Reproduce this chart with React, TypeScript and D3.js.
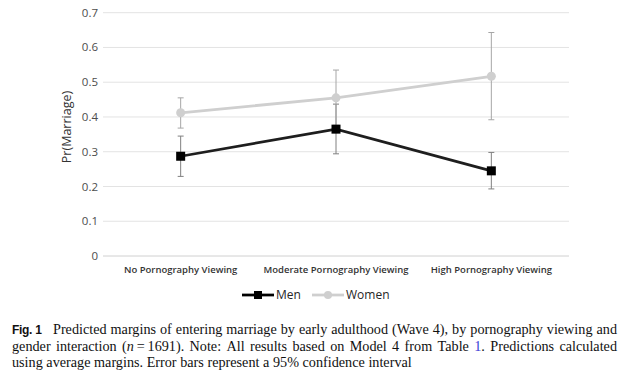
import React, { useEffect, useRef } from "react";
import * as d3 from "d3";

const categories = ["No Pornography Viewing", "Moderate Pornography Viewing", "High Pornography Viewing"];
const menValues = [0.287, 0.365, 0.245];
const menLower = [0.229, 0.294, 0.193];
const menUpper = [0.345, 0.437, 0.298];
const womenValues = [0.412, 0.455, 0.517];
const womenLower = [0.368, 0.376, 0.392];
const womenUpper = [0.455, 0.535, 0.643];
const yTicks = [0, 0.1, 0.2, 0.3, 0.4, 0.5, 0.6, 0.7];
const seriesNames = ["Men", "Women"];

const captionLines = [
  "Predicted margins of entering marriage by early adulthood (Wave 4), by pornography viewing and",
  "gender interaction (n=1691). Note: All results based on Model 4 from Table 1. Predictions calculated",
  "using average margins. Error bars represent a 95% confidence interval",
];

const App = () => {
  const ref = useRef<SVGSVGElement>(null);

  useEffect(() => {
    const svg = d3.select(ref.current);
    svg.selectAll("*").remove();

    const x = d3.scaleBand().domain(categories).range([103, 569]);
    const y = d3.scaleLinear().domain([0, 0.7]).range([256, 12.7]);
    const cx = (d: string) => (x(d) as number) + x.bandwidth() / 2;
    const sans = "'Open Sans', sans-serif";

    // gridlines
    svg
      .selectAll(".grid")
      .data(yTicks)
      .enter()
      .append("line")
      .attr("x1", 103)
      .attr("x2", 569)
      .attr("y1", (d) => y(d))
      .attr("y2", (d) => y(d))
      .attr("stroke", (d) => (d === 0 ? "#d0d0d0" : "#e3e3e3"))
      .attr("stroke-width", 1);

    svg
      .selectAll(".ytick")
      .data(yTicks)
      .enter()
      .append("text")
      .attr("x", 98)
      .attr("y", (d) => y(d))
      .attr("dy", "0.35em")
      .attr("text-anchor", "end")
      .attr("font-family", sans)
      .attr("font-size", 11.5)
      .attr("fill", "#4d4d4d")
      .text((d) => (d === 0 ? "0" : d3.format(".1f")(d)));

    svg
      .append("text")
      .attr("transform", `translate(71,127) rotate(-90)`)
      .attr("text-anchor", "middle")
      .attr("font-family", sans)
      .attr("font-size", 12.5)
      .attr("fill", "#333")
      .text("Pr(Marriage)");

    svg
      .selectAll(".xtick")
      .data(categories)
      .enter()
      .append("text")
      .attr("x", (d) => cx(d))
      .attr("y", 270)
      .attr("dy", "0.35em")
      .attr("text-anchor", "middle")
      .attr("font-family", sans)
      .attr("font-weight", 600)
      .attr("font-size", 9.5)
      .attr("fill", "#333")
      .text((d) => d);

    const series = [
      { name: "Men", v: menValues, lo: menLower, hi: menUpper, color: "#1e1e1e", err: "#808080" },
      { name: "Women", v: womenValues, lo: womenLower, hi: womenUpper, color: "#cfcfcf", err: "#a6a6a6" },
    ];

    const line = d3
      .line<number>()
      .x((_, i) => cx(categories[i]))
      .y((d) => y(d));

    series.forEach((s) => {
      const g = svg.append("g");
      categories.forEach((c, i) => {
        g.append("line")
          .attr("x1", cx(c))
          .attr("x2", cx(c))
          .attr("y1", y(s.lo[i]))
          .attr("y2", y(s.hi[i]))
          .attr("stroke", s.err)
          .attr("stroke-width", 1);
        [s.lo[i], s.hi[i]].forEach((e) => {
          g.append("line")
            .attr("x1", cx(c) - 3)
            .attr("x2", cx(c) + 3)
            .attr("y1", y(e))
            .attr("y2", y(e))
            .attr("stroke", s.err)
            .attr("stroke-width", 1);
        });
      });
    });

    series
      .slice()
      .reverse()
      .forEach((s) => {
        svg
          .append("path")
          .datum(s.v)
          .attr("fill", "none")
          .attr("stroke", s.color)
          .attr("stroke-width", 2.75)
          .attr("d", line);
        if (s.name === "Men") {
          svg
            .selectAll(null)
            .data(s.v)
            .enter()
            .append("rect")
            .attr("x", (_, i) => cx(categories[i]) - 4.5)
            .attr("y", (d) => y(d) - 4.5)
            .attr("width", 9)
            .attr("height", 9)
            .attr("fill", "#000");
        } else {
          svg
            .selectAll(null)
            .data(s.v)
            .enter()
            .append("circle")
            .attr("cx", (_, i) => cx(categories[i]))
            .attr("cy", (d) => y(d))
            .attr("r", 4.5)
            .attr("fill", s.color);
        }
      });

    // legend
    const legend = [
      { name: seriesNames[0], x0: 242, color: "#000" },
      { name: seriesNames[1], x0: 312, color: "#cfcfcf" },
    ];
    legend.forEach((l, i) => {
      svg
        .append("line")
        .attr("x1", l.x0)
        .attr("x2", l.x0 + 32)
        .attr("y1", 295)
        .attr("y2", 295)
        .attr("stroke", l.color)
        .attr("stroke-width", 2.75);
      if (i === 0) {
        svg
          .append("rect")
          .attr("x", l.x0 + 16 - 4)
          .attr("y", 291)
          .attr("width", 8)
          .attr("height", 8)
          .attr("fill", l.color);
      } else {
        svg
          .append("circle")
          .attr("cx", l.x0 + 16)
          .attr("cy", 295)
          .attr("r", 4)
          .attr("fill", l.color);
      }
      svg
        .append("text")
        .attr("x", l.x0 + 34)
        .attr("y", 295)
        .attr("dy", "0.35em")
        .attr("font-family", sans)
        .attr("font-size", 12)
        .attr("fill", "#262626")
        .text(l.name);
    });

    // caption
    const serif = "'Liberation Serif', 'Times New Roman', serif";
    svg
      .append("text")
      .attr("x", 12)
      .attr("y", 334)
      .attr("font-family", "'Liberation Sans', Arial, sans-serif")
      .attr("font-weight", 700)
      .attr("font-size", 12)
      .attr("letter-spacing", -0.3)
      .attr("fill", "#111")
      .text("Fig. 1");

    const lineStarts = [53, 12, 12];
    const baselines = [334, 350.7, 367.2];
    captionLines.forEach((txt, li) => {
      const words = txt.split(" ");
      const nodes = words.map((w) => {
        const t = svg
          .append("text")
          .attr("y", baselines[li])
          .attr("font-family", serif)
          .attr("font-size", 14.2)
          .attr("fill", "#111");
        if (w === "(n=1691).") {
          t.append("tspan").text("(");
          t.append("tspan").attr("font-style", "italic").text("n");
          t.append("tspan").text("\u2009=\u20091691).");
        } else if (w === "1.") {
          t.append("tspan").attr("fill", "#3b3bd6").text("1");
          t.append("tspan").text(".");
        } else {
          t.text(w);
        }
        return t;
      });
      const widths = nodes.map((n) => (n.node() as SVGTextElement).getComputedTextLength());
      const total = d3.sum(widths);
      const gap = li < 2 ? (617 - lineStarts[li] - total) / (words.length - 1) : 3.6;
      let xp = lineStarts[li];
      nodes.forEach((n, i) => {
        n.attr("x", xp);
        xp += widths[i] + gap;
      });
    });
  }, []);

  return (
    <svg
      ref={ref}
      width={637}
      height={386}
      style={{ position: "absolute", left: 0, top: 0, background: "#fff" }}
    />
  );
};

export default App;
